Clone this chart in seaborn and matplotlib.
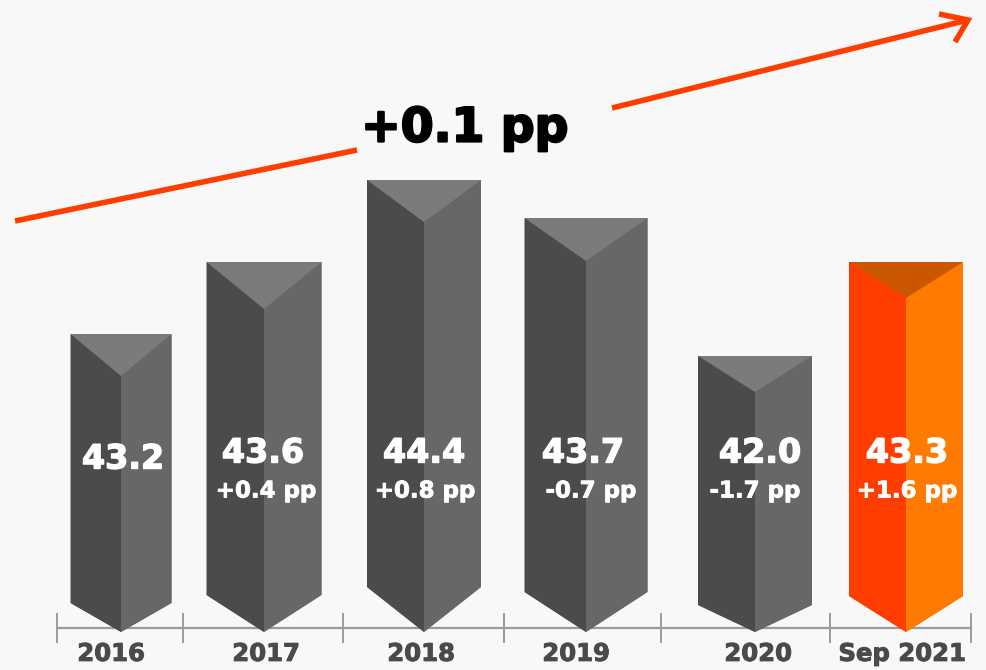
import pandas as pd
import matplotlib.pyplot as plt
import matplotlib.patheffects as pe
import seaborn as sns
from matplotlib.patches import Polygon

# --- data ---
periods = ['2016', '2017', '2018', '2019', '2020', 'Sep 2021']
values = ['43.2', '43.6', '44.4', '43.7', '42.0', '43.3']
changes = ['', '+0.4 pp', '+0.8 pp', '-0.7 pp', '-1.7 pp', '+1.6 pp']
# the columns are not drawn to scale in the source, so heights are read separately
drawn_heights = [298, 370, 452, 414, 276, 370]
overall_change = '+0.1 pp'

# --- layout, in pixels of the 987x670 canvas ---
W, H = 987, 670
TIP_Y = 632
ridge_x = [121, 264, 424, 586, 755, 906]
bar_widths = [101, 115, 114, 123, 114, 114]
notch_depth = [42, 47, 42, 43, 36, 36]
foot_depth = [29, 37, 45, 40, 27, 36]
value_x = [123, 263, 424, 583, 760, 907]
change_x = [0, 266, 425, 591, 755, 907]
value_y = [459, 453, 453, 453, 453, 453]
label_x = [111, 266, 421, 576, 758, 902]
boundary_x = [57, 183, 343, 504, 661, 830, 971]

GREY_FACES = ('#4b4b4b', '#676767', '#7b7b7b')
ORANGE_FACES = ('#ff3d00', '#ff7a00', '#cc5500')
RED = '#ff3d00'
BG = '#f8f8f8'


def py(y):
    """pixel row -> data y (data y is height above the tips)"""
    return TIP_Y - y


def thicken(color, width):
    """the source font is heavier than anything installed"""
    return [pe.withStroke(linewidth=width, foreground=color)]


sns.set_theme(style='white')
plt.rcParams['font.family'] = 'DejaVu Sans'

fig = plt.figure(figsize=(W / 100, H / 100), dpi=100, facecolor=BG)
ax = fig.add_axes([0, 0, 1, 1], facecolor=BG)

df = pd.DataFrame({'x': ridge_x, 'height': drawn_heights, 'period': periods})
face_sets = [ORANGE_FACES if p.startswith('Sep') else GREY_FACES for p in periods]
sns.barplot(data=df, x='x', y='height', hue='period', native_scale=True, dodge=False,
            palette=[f[2] for f in face_sets], legend=False, saturation=1, ax=ax)

ax.set_xlim(0, W)
ax.set_ylim(py(H), py(0))

# turn each plain bar into a prism: the bar stays visible as the top triangle
for bar, cx, w, top_d, foot_d, faces in zip(ax.patches, ridge_x, bar_widths,
                                            notch_depth, foot_depth, face_sets):
    left, right = cx - w / 2, cx + w / 2
    top = bar.get_height()
    bar.set_x(left)
    bar.set_width(w)
    bar.set_linewidth(0)
    bar.set_zorder(3)
    outline = [(left, foot_d), (left, top), (right, top), (right, foot_d), (cx, 0)]
    bar.set_clip_path(Polygon(outline, transform=ax.transData))
    ax.fill([left, left, cx, cx], [foot_d, top, top - top_d, 0], color=faces[0], lw=0, zorder=4)
    ax.fill([cx, cx, right, right], [0, top - top_d, top, foot_d], color=faces[1], lw=0, zorder=4)

# value labels
for i in range(len(periods)):
    ax.text(value_x[i], py(value_y[i]), values[i], color='white', fontsize=24, fontweight='bold',
            ha='center', va='center', zorder=5, path_effects=thicken('white', 1.0))
    if changes[i]:
        ax.text(change_x[i], py(491), changes[i], color='white', fontsize=16.5, fontweight='bold',
                ha='center', va='center', zorder=5, path_effects=thicken('white', 0.6))

# axis: boundaries as minor ticks, period names on invisible major ticks
ax.spines[['top', 'left', 'right']].set_visible(False)
ax.spines['bottom'].set_position(('data', py(628)))
ax.spines['bottom'].set_bounds(boundary_x[0], boundary_x[-1])
ax.spines['bottom'].set_color('#9a9a9a')
ax.spines['bottom'].set_linewidth(1.6)
ax.set_yticks([])
ax.set_xlabel('')
ax.set_ylabel('')
ax.set_xticks(boundary_x, minor=True)
ax.set_xticks(label_x, periods)
ax.tick_params(axis='x', which='minor', bottom=True, direction='inout', length=21, width=1.4, color='#9a9a9a')
ax.tick_params(axis='x', which='major', bottom=True, length=0, pad=10, labelsize=17.5, labelcolor='#4a4a4a')
for lab in ax.get_xticklabels():
    lab.set_fontweight('bold')
    lab.set_path_effects(thicken('#4a4a4a', 0.7))

# overall trend arrow, broken by its label
ax.plot([15, 357], [py(221), py(150)], color=RED, lw=4, solid_capstyle='butt', zorder=2)
ax.plot([612, 968], [py(108), py(20)], color=RED, lw=4, solid_capstyle='butt', zorder=2)
ax.plot([939, 968, 955], [py(14), py(20), py(42)], color=RED, lw=4, solid_capstyle='butt',
        solid_joinstyle='miter', zorder=2)
ax.text(465, py(129), overall_change, color='black', fontsize=34, fontweight='bold',
        ha='center', va='center', zorder=5, path_effects=thicken('black', 1.6))

fig.savefig('out.png', dpi=100, facecolor=BG)
